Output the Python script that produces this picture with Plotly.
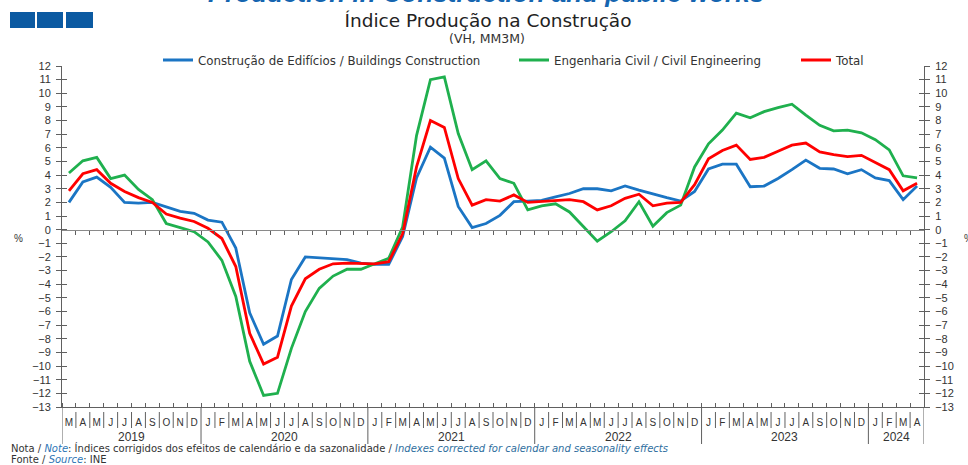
import plotly.graph_objects as go

# ---------------- data ----------------
months = ["M", "A", "M", "J", "J", "A", "S", "O", "N", "D"] + \
         ["J", "F", "M", "A", "M", "J", "J", "A", "S", "O", "N", "D"] * 4 + \
         ["J", "F", "M", "A"]
years = ["2019", "2020", "2021", "2022", "2023", "2024"]
months_per_year = [10, 12, 12, 12, 12, 4]

buildings = [2.0, 3.5, 3.85, 3.1, 2.0, 1.95, 2.0, 1.7, 1.35, 1.2, 0.7, 0.55,
             -1.35, -6.1, -8.4, -7.8, -3.65, -2.0, -2.05, -2.1, -2.2, -2.45, -2.55, -2.55,
             -0.5, 3.8, 6.05, 5.25, 1.7, 0.15, 0.45, 1.05, 2.05, 2.1, 2.15, 2.4,
             2.65, 3.0, 3.0, 2.85, 3.2, 2.9, 2.6, 2.35, 2.1, 2.8, 4.45, 4.8,
             4.8, 3.15, 3.2, 3.75, 4.4, 5.1, 4.5, 4.45, 4.1, 4.4, 3.8, 3.6,
             2.2, 3.2]
civil = [4.15, 5.05, 5.3, 3.75, 4.0, 2.95, 2.2, 0.45, 0.15, -0.15, -0.9, -2.25,
         -4.9, -9.65, -12.15, -12.0, -8.7, -6.0, -4.3, -3.4, -2.9, -2.9, -2.5, -2.1,
         0.2, 6.9, 11.0, 11.2, 7.05, 4.4, 5.05, 3.75, 3.4, 1.45, 1.75, 1.9,
         1.3, 0.2, -0.85, -0.15, 0.65, 2.05, 0.25, 1.25, 1.8, 4.6, 6.3, 7.3,
         8.55, 8.2, 8.65, 8.95, 9.2, 8.4, 7.65, 7.25, 7.3, 7.1, 6.6, 5.85,
         3.95, 3.8]
total = [2.85, 4.1, 4.4, 3.4, 2.8, 2.35, 2.0, 1.15, 0.85, 0.6, 0.1, -0.65,
         -2.7, -7.6, -9.85, -9.35, -5.6, -3.6, -2.9, -2.5, -2.45, -2.5, -2.5, -2.35,
         -0.3, 4.6, 8.0, 7.5, 3.75, 1.8, 2.2, 2.1, 2.55, 2.0, 2.05, 2.15,
         2.2, 2.05, 1.45, 1.75, 2.3, 2.6, 1.75, 1.95, 2.0, 3.3, 5.2, 5.8,
         6.2, 5.15, 5.3, 5.75, 6.2, 6.35, 5.7, 5.5, 5.35, 5.45, 4.9, 4.4,
         2.85, 3.4]
y_ticks = list(range(-13, 13))

# ---------------- layout geometry ----------------
W, H = 968, 465
ML, MR, MT, MB = 62, 44, 66, 58
PW, PH = W - ML - MR, H - MT - MB


def px(xp):
    return (xp - ML) / PW


def py(yp):
    return (H - MB - yp) / PH


BLUE = "#1B75C4"
GREEN = "#1FB04E"
RED = "#FF0000"
AX = "#606060"
TXT = "#333333"
FONT = "Liberation Sans"
WIDE = "DejaVu Sans"

n = len(months)
xs = list(range(n))
bounds = [i + 0.5 for i in range(-1, n)]

fig = go.Figure()
fig.add_trace(go.Scatter(x=xs, y=buildings, mode="lines", name="Construção de Edifícios / Buildings Construction",
                         line=dict(color=BLUE, width=2.8), legend="legend"))
fig.add_trace(go.Scatter(x=xs, y=civil, mode="lines", name="Engenharia Civil / Civil Engineering",
                         line=dict(color=GREEN, width=2.8), legend="legend2"))
fig.add_trace(go.Scatter(x=xs, y=total, mode="lines", name="Total",
                         line=dict(color=RED, width=2.8), legend="legend3"))
# helper (empty) traces so the extra axes are drawn
for xa, ya in [("x2", "y"), ("x", "y2"), ("x", "y3"), ("x", "y4")]:
    fig.add_trace(go.Scatter(x=[], y=[], xaxis=xa, yaxis=ya, showlegend=False, hoverinfo="skip"))

yr = [-13, 12]
xr = [-0.5, n - 0.5]
ytick_common = dict(range=yr, tickvals=y_ticks, showgrid=False, zeroline=False,
                    ticklen=5, tickcolor=AX, tickwidth=1, fixedrange=True)
leg_font = dict(size=11.8, color=TXT, family=WIDE)

fig.update_layout(
    width=W, height=H, margin=dict(l=ML, r=MR, t=MT, b=MB),
    paper_bgcolor="white", plot_bgcolor="white",
    font=dict(family=FONT, color=TXT, size=11),
    title=dict(text="Índice Produção na Construção", x=px(488), xref="paper", xanchor="center",
               y=1 - 21 / H, yref="container", yanchor="middle",
               font=dict(size=18.5, color="#222222", family=WIDE)),
    xaxis=dict(range=xr, tickvals=xs, ticktext=months, ticks="", showgrid=False, zeroline=False,
               showline=True, linecolor=AX, linewidth=1, tickfont=dict(size=10, color=TXT),
               ticklabelstandoff=6, fixedrange=True,
               minor=dict(tickvals=bounds, ticks="inside", ticklen=4, tickcolor=AX, tickwidth=1)),
    xaxis2=dict(range=xr, overlaying="x", anchor="free", position=13 / 25, side="bottom",
                showline=True, linecolor="#8a8a8a", linewidth=1, tickvals=bounds[1:-1], ticks="outside",
                ticklen=4, tickcolor=AX, showticklabels=False, showgrid=False, zeroline=False, fixedrange=True),
    yaxis=dict(**ytick_common, side="left", ticks="outside", showline=True, linecolor=AX, linewidth=1,
               tickfont=dict(size=11, color=TXT), ticklabelstandoff=3),
    yaxis2=dict(**ytick_common, side="right", overlaying="y", anchor="x", ticks="outside", showline=True,
                linecolor=AX, linewidth=1, tickfont=dict(size=11, color=TXT), ticklabelstandoff=3),
    yaxis3=dict(**ytick_common, side="left", overlaying="y", anchor="x", ticks="inside", showticklabels=False),
    yaxis4=dict(**ytick_common, side="right", overlaying="y", anchor="x", ticks="inside", showticklabels=False),
    showlegend=True,
    legend=dict(x=px(158), y=py(60), xanchor="left", yanchor="middle", orientation="h",
                font=leg_font, bgcolor="rgba(0,0,0,0)"),
    legend2=dict(x=px(514), y=py(60), xanchor="left", yanchor="middle", orientation="h",
                 font=leg_font, bgcolor="rgba(0,0,0,0)"),
    legend3=dict(x=px(796), y=py(60), xanchor="left", yanchor="middle", orientation="h",
                 font=leg_font, bgcolor="rgba(0,0,0,0)"),
)

shapes = []
# header squares
for x0, x1 in [(10, 35), (37, 63), (66, 93)]:
    shapes.append(dict(type="rect", xref="paper", yref="paper", x0=px(x0), x1=px(x1), y0=py(28), y1=py(12),
                       fillcolor="#0B5AA2", line=dict(width=0)))
# separators in the label band
year_starts = []
acc = 0
for c in months_per_year:
    year_starts.append(acc)
    acc += c
for b in bounds:
    if (b + 0.5) in year_starts or b in (xr[0], xr[1]):
        shapes.append(dict(type="line", xref="x", yref="paper", x0=b, x1=b, y0=0, y1=py(444),
                           line=dict(color=AX, width=1)))
    else:
        shapes.append(dict(type="line", xref="x", yref="paper", x0=b, x1=b, y0=py(412), y1=py(428),
                           line=dict(color=AX, width=1)))
fig.update_layout(shapes=shapes)

ann = []
# year labels
for yname, start, c in zip(years, year_starts, months_per_year):
    ann.append(dict(text=yname, x=start + (c - 1) / 2, xref="x", y=0, yref="paper", yshift=-30,
                    yanchor="middle", showarrow=False, font=dict(size=12, color=TXT)))
ann += [
    dict(text="<b><i>Production in Construction and public works</i></b>", x=px(486), xref="paper",
         y=py(10), yref="paper", yanchor="bottom", showarrow=False, font=dict(size=26, color="#1565B0")),
    dict(text="(VH, MM3M)", x=px(487), xref="paper", y=py(38), yref="paper", yanchor="middle",
         showarrow=False, font=dict(size=12.5, color=TXT, family=WIDE)),
    dict(text="%", x=px(18), xref="paper", y=py(238), yref="paper", xanchor="center", yanchor="middle",
         showarrow=False, font=dict(size=10, color=TXT)),
    dict(text="%", x=px(962), xref="paper", y=py(238), yref="paper", xanchor="left", yanchor="middle",
         showarrow=False, font=dict(size=10, color=TXT)),
    dict(text="Nota / <i><span style='color:#2E75B6'>Note</span></i>: Índices corrigidos dos efeitos de calendário e da sazonalidade / "
              "<i><span style='color:#2E6E9E'>Indexes corrected for calendar and seasonality effects</span></i>",
         x=px(10), xref="paper", y=py(448), yref="paper", xanchor="left", yanchor="middle",
         showarrow=False, borderpad=0, font=dict(size=10, color=TXT, family=WIDE)),
    dict(text="Fonte / <i><span style='color:#2E75B6'>Source</span></i>: INE",
         x=px(10), xref="paper", y=py(459.5), yref="paper", xanchor="left", yanchor="middle",
         showarrow=False, borderpad=0, font=dict(size=10, color=TXT, family=WIDE)),
]
fig.update_layout(annotations=ann)

fig.write_html("out.html", config={"displayModeBar": False},
               post_script="document.body.style.margin='0';document.body.style.overflow='hidden';")
